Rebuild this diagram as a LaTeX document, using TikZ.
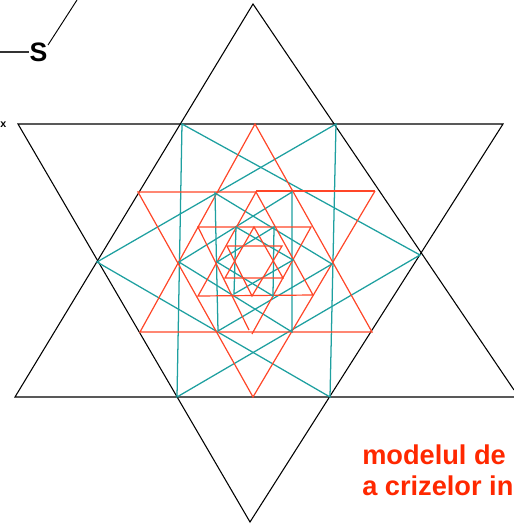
\documentclass[tikz,border=0pt]{standalone}
\usepackage{fontspec}
\setmainfont{Liberation Sans}
\definecolor{tealline}{RGB}{30,160,160}
\definecolor{redline}{RGB}{255,70,40}
\definecolor{redtext}{RGB}{255,40,0}
\tikzset{
  blackline/.style={draw=black,line width=0.8pt,line join=miter},
  tealA/.style={draw=tealline,line width=0.95pt},
  redA/.style={draw=redline,line width=0.9pt},
  lbl/.style={anchor=base west,inner sep=0pt,font=\bfseries\fontsize{20.4}{24}\selectfont,text=redtext}
}
\begin{document}
\begin{tikzpicture}[x=0.75pt,y=-0.75pt]
\useasboundingbox (0,0) rectangle (514,525);
\clip (0,0) rectangle (514,525);
% black star
\draw[blackline] (514,390) -- (253,4) -- (15,397) -- (514,397);
\draw[blackline] (18,124) -- (503,124) -- (250,522) -- cycle;
% S label and its lines
\coordinate (sa) at (0,52);
\coordinate (sb) at (77,0);
\coordinate (sc) at (48,45);
\node[inner sep=0pt,font=\bfseries\fontsize{20}{22}\selectfont] (s) at (38.5,52.5) {S};
\draw[black!80,line width=0.8pt] (sa) -- (s.west |- sa);
\draw[black,line width=0.7pt] (sb) -- (sc);
\node[anchor=west,inner sep=0pt,font=\bfseries\fontsize{8}{9}\selectfont] (x) at (0,125) {x};
% level 1
\draw[tealA] (182,124) -- (420,255) -- (177,397) -- cycle;
\draw[tealA] (336,124) -- (97,262) -- (330,397) -- cycle;
\draw[redA] (255,124) -- (140,332) -- (372,332) -- cycle;
\draw[redA] (375,191) -- (253,397) -- (138,192) -- (256,192);
\draw[redA] (256,191) -- (375,191);
% level 2
\draw[tealA] (215,193) -- (332,264) -- (218,331) -- cycle;
\draw[tealA] (292,192) -- (179,262) -- (292,332) -- cycle;
\draw[redA] (256,192) -- (198,296) -- (313,295) -- cycle;
\draw[redA] (249,330) -- (198,227) -- (311,227) -- (252,334);
% level 3
\draw[tealA] (236,227) -- (293,260) -- (234,294) -- cycle;
\draw[tealA] (274,227) -- (217,262) -- (273,296) -- cycle;
\draw[redA] (254,227) -- (225,278) -- (283,278) -- cycle;
\draw[redA] (227,246) -- (282,246) -- (252,296) -- cycle;
% label
\node[lbl] (t1) at (362,464) {modelul de};
\node[lbl] (t2) at (362,495) {a crizelor in};
\end{tikzpicture}
\end{document}
